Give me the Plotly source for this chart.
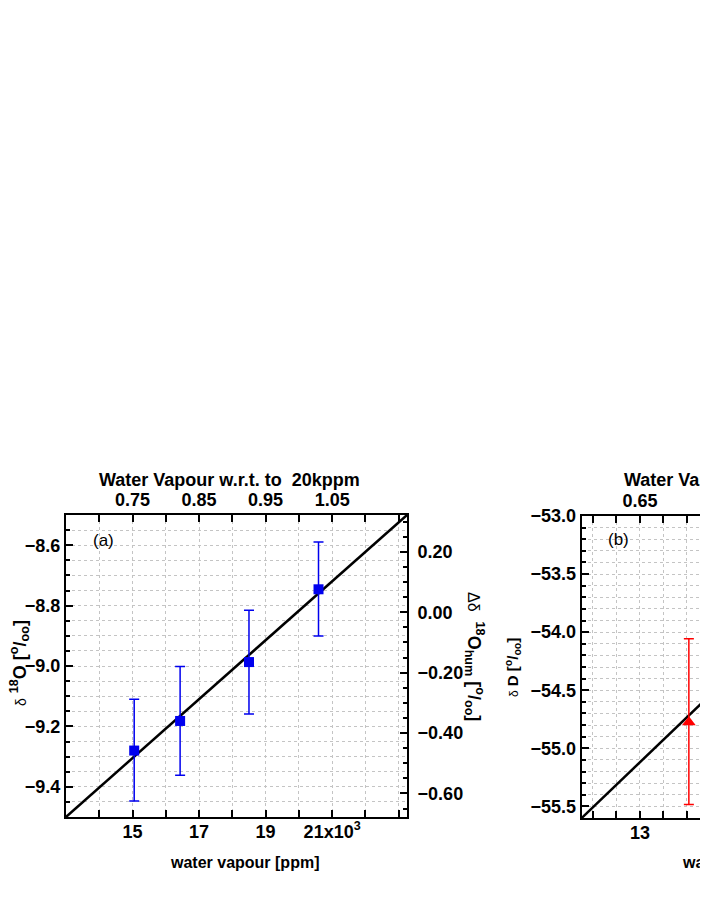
import plotly.graph_objects as go

# --------------------
# Data (water vapour in 10^3 ppm)
# --------------------
vap_a = [15.05, 16.43, 18.50, 20.59]
d18o = [-9.280, -9.182, -8.987, -8.746]
d18o_hi = [-9.110, -9.002, -8.815, -8.589]
d18o_lo = [-9.447, -9.362, -9.159, -8.901]
fit_a_x = [13.0, 23.25]
fit_a_y = [-9.50, -8.50]
d18o_ref = -8.822  # delta value at which the humidity correction is zero

vap_b = [14.04]
dD = [-54.776]
dD_hi = [-54.057]
dD_lo = [-55.483]
fit_b_x = [11.76, 16.0]
fit_b_y = [-55.60, -53.957]

ref_ppm = 20.0  # 20 kppm reference

W, H = 708, 917
OFF = 8  # page body margin
FONT = "Liberation Sans, Arial, sans-serif"


def px(x):
    return (x - OFF) / W


def py(y):
    return 1 - (y - OFF) / H


fig = go.Figure()

# --------------------
# Panel (a)
# --------------------
fig.add_trace(go.Scatter(
    x=fit_a_x, y=fit_a_y, mode="lines",
    line=dict(color="black", width=2.5),
    xaxis="x", yaxis="y", showlegend=False,
))
fig.add_trace(go.Scatter(
    x=vap_a, y=d18o, mode="markers",
    marker=dict(symbol="square", size=10, color="#0000ee"),
    error_y=dict(
        type="data", symmetric=False,
        array=[h - v for h, v in zip(d18o_hi, d18o)],
        arrayminus=[v - l for v, l in zip(d18o, d18o_lo)],
        color="#0000ee", thickness=1.5, width=5,
    ),
    xaxis="x", yaxis="y", showlegend=False,
))
# same points on the secondary scales (invisible, keeps top/right axes active)
fig.add_trace(go.Scatter(
    x=[v / ref_ppm for v in vap_a], y=[d - d18o_ref for d in d18o],
    mode="markers", marker=dict(opacity=0), hoverinfo="skip",
    xaxis="x2", yaxis="y2", showlegend=False,
))

# --------------------
# Panel (b)
# --------------------
fig.add_trace(go.Scatter(
    x=fit_b_x, y=fit_b_y, mode="lines",
    line=dict(color="black", width=2.5),
    xaxis="x3", yaxis="y3", showlegend=False,
))
fig.add_trace(go.Scatter(
    x=vap_b, y=dD, mode="markers",
    marker=dict(symbol="triangle-up", size=12, color="red"),
    error_y=dict(
        type="data", symmetric=False,
        array=[h - v for h, v in zip(dD_hi, dD)],
        arrayminus=[v - l for v, l in zip(dD, dD_lo)],
        color="red", thickness=1.5, width=5,
    ),
    xaxis="x3", yaxis="y3", showlegend=False,
))
fig.add_trace(go.Scatter(
    x=[v / ref_ppm for v in vap_b], y=dD,
    mode="markers", marker=dict(opacity=0), hoverinfo="skip",
    xaxis="x4", yaxis="y3", showlegend=False,
))

tickfont = dict(family=FONT, size=18, color="black", weight="bold")
grid = dict(showgrid=True, gridcolor="#c4c4c4", griddash="dot", gridwidth=1)
axline = dict(showline=True, linecolor="black", linewidth=2, ticks="inside",
              tickcolor="black", tickwidth=1.5, zeroline=False, automargin=False)

dom_ax = [px(66), px(407)]
dom_ay = [py(817), py(515)]
dom_bx = [px(581.7), 1.0]
dom_by = [py(818), py(516)]
xb_max = 11.76 + (OFF + W - 581.7) / 47.0

xa_ticks = list(range(14, 24))
xa_text = [str(v) if v in (15, 17, 19) else ("21x10<sup>3</sup>" if v == 21 else "") for v in xa_ticks]
top_a_ticks = [v / ref_ppm for v in xa_ticks]
top_a_text = ["%.2f" % (v / ref_ppm) if v in (15, 17, 19, 21) else "" for v in xa_ticks]

xb_ticks = [11.5 + 0.5 * i for i in range(12)]
xb_text = [("%d" % v) if v in (13, 15, 17) else "" for v in xb_ticks]
top_b_text = ["%.2f" % (v / ref_ppm) if v in (13, 15, 17) else "" for v in xb_ticks]

fig.update_layout(
    width=W, height=H,
    margin=dict(l=0, r=0, t=0, b=0),
    paper_bgcolor="white", plot_bgcolor="white",
    template="none",
    xaxis=dict(domain=dom_ax, range=fit_a_x, anchor="y",
               tickmode="array", tickvals=xa_ticks, ticktext=xa_text,
               ticklen=7, tickfont=tickfont, ticklabelstandoff=-3, **grid, **axline),
    xaxis2=dict(overlaying="x", side="top", anchor="y",
                range=[v / ref_ppm for v in fit_a_x],
                tickmode="array", tickvals=top_a_ticks, ticktext=top_a_text,
                ticklen=7, tickfont=tickfont, showgrid=False, **axline),
    yaxis=dict(domain=dom_ay, range=[-9.5, -8.5], anchor="x",
               tick0=-9.4, dtick=0.2, tickformat=".1f", ticklen=7,
               tickfont=tickfont, ticklabelstandoff=0,
               minor=dict(dtick=0.05, ticklen=4, tickcolor="black", ticks="inside",
                          showgrid=True, gridcolor="#c4c4c4", griddash="dot"),
               **grid, **axline),
    yaxis2=dict(overlaying="y", side="right", anchor="x",
                range=[-9.5 - d18o_ref, -8.5 - d18o_ref], tick0=-0.6, dtick=0.2, tickformat=".2f",
                ticklen=7, tickfont=tickfont, showgrid=False, ticklabelstandoff=5,
                minor=dict(dtick=0.05, ticklen=4, tickcolor="black", ticks="inside"),
                **axline),
    xaxis3=dict(domain=dom_bx, range=[11.76, xb_max], anchor="y3",
                tickmode="array", tickvals=xb_ticks, ticktext=xb_text,
                ticklen=7, tickfont=tickfont, ticklabelstandoff=-3, **grid, **axline),
    xaxis4=dict(overlaying="x3", side="top", anchor="y3",
                range=[11.76 / ref_ppm, xb_max / ref_ppm],
                tickmode="array", tickvals=[v / ref_ppm for v in xb_ticks], ticktext=top_b_text,
                ticklen=7, tickfont=tickfont, showgrid=False, **axline),
    yaxis3=dict(domain=dom_by, range=[-55.6, -53.0], anchor="x3",
                tick0=-55.5, dtick=0.5, tickformat=".1f", ticklen=7,
                tickfont=tickfont, ticklabelstandoff=0,
                minor=dict(dtick=0.1, ticklen=4, tickcolor="black", ticks="inside",
                           showgrid=True, gridcolor="#c4c4c4", griddash="dot"),
                **grid, **axline),
)

title_font = dict(family=FONT, size=18, color="black", weight="bold")
small_font = dict(family=FONT, size=16, color="black", weight="bold")
label_font = dict(family=FONT, size=17, color="black")


def note(text, x, y, font, xanchor="left", angle=0):
    fig.add_annotation(text=text, x=px(x), y=py(y), xref="paper", yref="paper",
                       xanchor=xanchor, yanchor="middle", showarrow=False,
                       textangle=angle, font=font)


note("Water Vapour w.r.t. to\u00a0 20kppm", 96.7, 480, title_font)
note("Water Vapour w.r.t. to\u00a0 20kppm", 621.7, 480, title_font)
note("water vapour [ppm]", 168, 862, small_font)
note("water vapour [ppm]", 680, 862, small_font)
note("(a)", 91, 540, label_font)
note("(b)", 606, 539, label_font)

note("<span style='font-weight:normal;font-size:14px'>δ</span> <sup>18</sup>O [<sup>o</sup>/<sub>oo</sub>]",
     19, 663, dict(family=FONT, size=18, color="black", weight="bold"), xanchor="center", angle=-90)
note("<span style='font-weight:normal;font-size:16px'>Δδ</span>  <sup>18</sup>O<sub>hum</sub> [<sup>o</sup>/<sub>oo</sub>]",
     475, 657, dict(family=FONT, size=18, color="black", weight="bold"), xanchor="center", angle=90)
note("<span style='font-weight:normal;font-size:12px'>δ</span> D [<sup>o</sup>/<sub>oo</sub>]",
     512, 668, dict(family=FONT, size=15, color="black", weight="bold"), xanchor="center", angle=-90)

fig.write_html("out.html")
